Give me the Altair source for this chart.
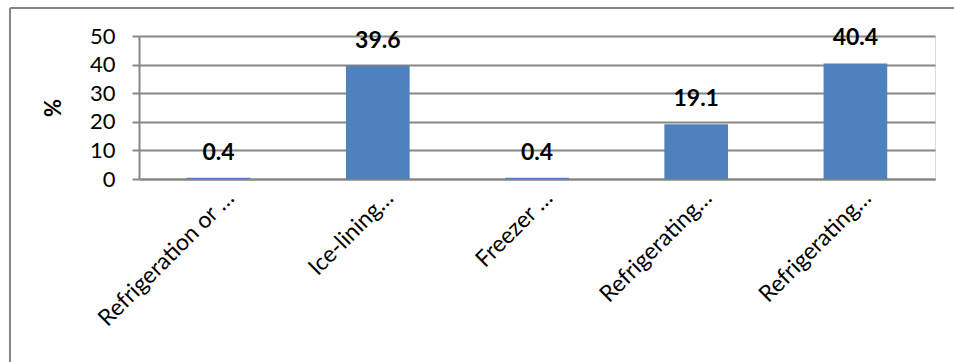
import altair as alt
import pandas as pd

labels = ["Refrigeration or …", "Ice-lining…", "Freezer …", "Refrigerating…", "Refrigerating…"]
values = [0.4, 39.6, 0.4, 19.1, 40.4]
value_text = ["0.4", "39.6", "0.4", "19.1", "40.4"]

df = pd.DataFrame({"idx": list(range(len(labels))), "value": values, "txt": value_text})

FONT = "Lato"
GRID = "#868686"

label_arr = "[" + ",".join("'" + l + "'" for l in labels) + "]"

x = alt.X("idx:O", title=None,
          scale=alt.Scale(paddingInner=0.6, paddingOuter=0.3),
          axis=alt.Axis(labelExpr=label_arr + "[datum.value]", labelAngle=-45,
                        labelAlign="right", labelBaseline="middle",
                        labelFont=FONT, labelFontSize=23, labelColor="black",
                        ticks=False, labelPadding=15, labelOffset=12,
                        domainColor=GRID, domainWidth=2,
                        labelLimit=400, labelOverlap=False))
y = alt.Y("value:Q", title="%",
          scale=alt.Scale(domain=[0, 50], nice=False),
          axis=alt.Axis(values=[0, 10, 20, 30, 40, 50], grid=True, gridColor=GRID, gridWidth=2,
                        domainColor=GRID, domainWidth=2, tickColor=GRID, tickWidth=2, tickSize=7,
                        labelFont=FONT, labelFontSize=22, labelColor="black", labelPadding=17,
                        labelOverlap=False, labelFlush=False,
                        titleFont=FONT, titleFontSize=22, titleFontWeight="bold", titleColor="black",
                        titlePadding=24))

base = alt.Chart(df).encode(x=x, y=y)
bars = base.mark_bar(color="#4F81BD")
text = base.mark_text(font=FONT, fontSize=23, fontWeight="bold", color="black",
                      baseline="alphabetic", dy=-18).encode(text="txt:N")

border = alt.Chart(pd.DataFrame({"a": [0]})).mark_rule(color="#868686", strokeWidth=2, clip=False)
left_line = border.encode(x=alt.value(-129), y=alt.value(-28), y2=alt.value(330))
top_line = border.encode(x=alt.value(-129), x2=alt.value(820), y=alt.value(-28))

chart = alt.layer(bars, text, left_line, top_line).properties(
    width=796, height=143,
    autosize=alt.AutoSizeParams(type="none"),
    padding={"left": 139, "top": 36, "right": 19, "bottom": 183},
).configure_view(stroke=None).configure(background="white")

chart.save("out.html", embed_options={"renderer": "svg", "actions": False})
